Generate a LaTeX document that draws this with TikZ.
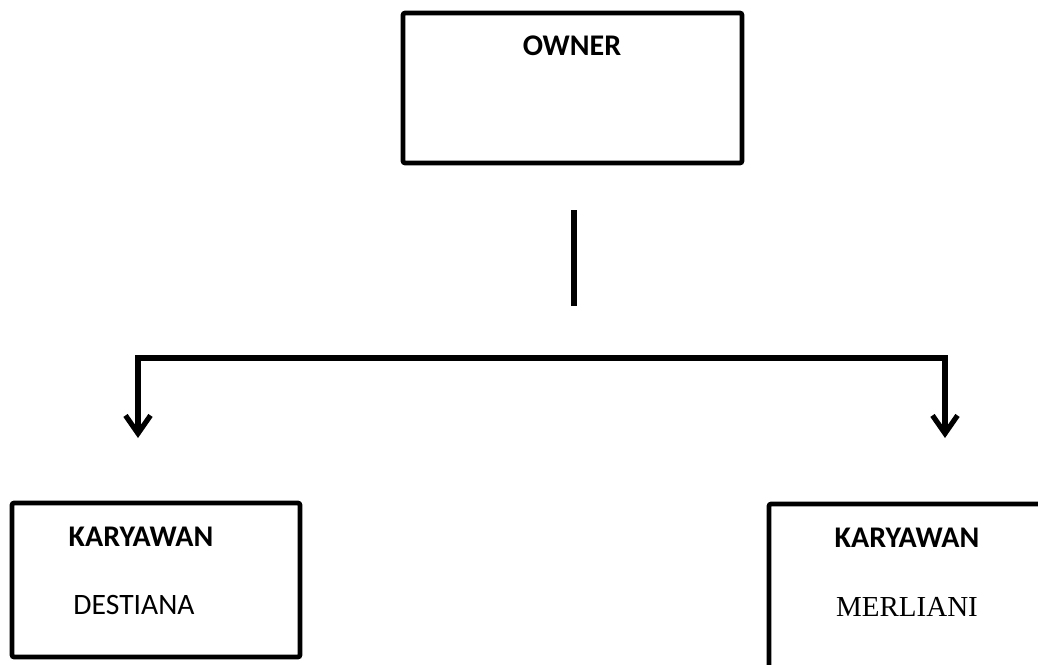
\documentclass[tikz,border=0pt]{standalone}
\usepackage{fontspec}
\setmainfont{Carlito}
\newfontfamily\timesfont{Liberation Serif}
\usetikzlibrary{arrows.meta, positioning}
\tikzstyle{orgbox} = [rectangle, rounded corners=1pt, draw=black, line width=2.3pt, inner sep=0pt]
\tikzstyle{titletext} = [inner sep=0pt, font=\fontsize{15}{18}\selectfont\bfseries]
\tikzstyle{nametext} = [inner sep=0pt, font=\fontsize{14.8}{18}\selectfont]
\tikzstyle{arrow} = [line width=2.6pt, line join=miter, {Straight Barb[length=9pt,width=12.5pt]}-{Straight Barb[length=9pt,width=12.5pt]}]

\begin{document}
\begin{tikzpicture}[x=0.5pt, y=-0.5pt]
	\clip (0,0) rectangle (1038,664);

	% Boxes
	\node (owner) [orgbox, minimum width=169.5pt, minimum height=75pt] at (572.5,88) {};
	\node (destiana) [orgbox, minimum width=144pt, minimum height=77pt] at (156,580) {};
	\node (merliani) [orgbox, minimum width=150pt, minimum height=90pt] at (919,594) {};

	% Texts inside the boxes
	\node (ownerlbl) [titletext] at (572,46) {OWNER};
	\node (karyawanl) [titletext] at (141,537) {KARYAWAN};
	\node (destianalbl) [nametext] at (134,605) {DESTIANA};
	\node (karyawanr) [titletext] at (907,538) {KARYAWAN};
	\node (merlianilbl) [nametext, font=\fontsize{14.5}{17}\selectfont\timesfont] at (907,607) {MERLIANI};

	% Free ends of the lines
	\coordinate (stemtop) at (574,210);
	\coordinate (stembot) at (574,306);
	\coordinate (barmid) at (574,358);
	\coordinate (lefttip) at (138,438);
	\coordinate (righttip) at (945,438);

	% Lines
	\draw [line width=2.8pt] (stemtop) -- (stembot);
	\draw [arrow] (lefttip) |- (barmid) -| (righttip);

\end{tikzpicture}
\end{document}
